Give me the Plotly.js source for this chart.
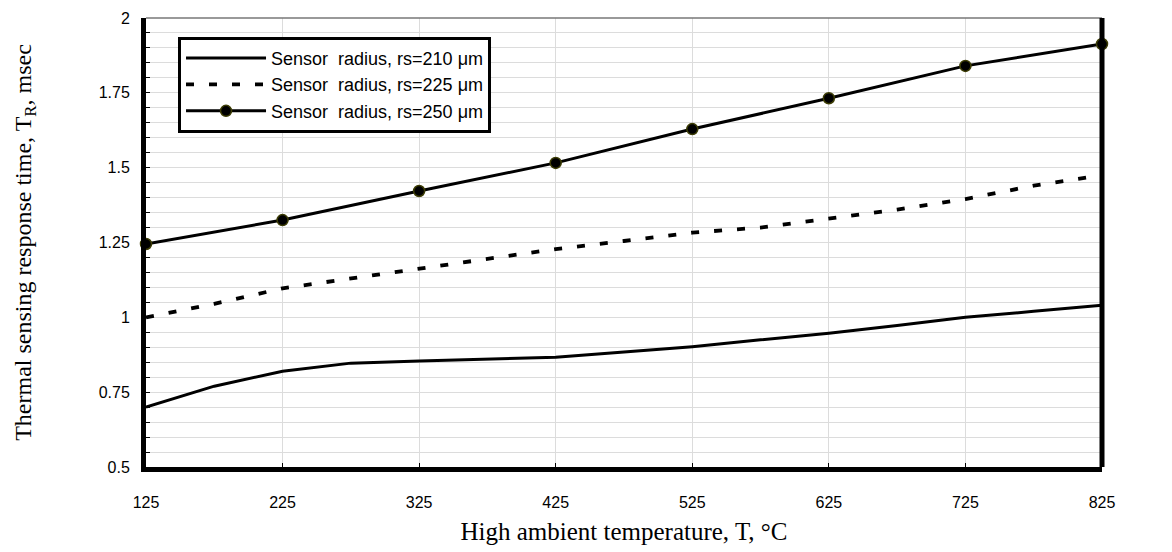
<!DOCTYPE html>
<html>
<head>
<meta charset="utf-8">
<script src="https://cdn.plot.ly/plotly-3.0.1.min.js"></script>
<style>html,body{margin:0;padding:0;background:#fff;}#chart{width:1172px;height:552px;}</style>
</head>
<body>
<div id="chart"></div>
<script>
// Temperatures (°C)
const tempFine = [125,175,225,275,325,375,425,475,525,575,625,675,725,775,825];
const tempMarked = [125,225,325,425,525,625,725,825];
// Response time (msec)
const rs210 = [0.70,0.77,0.82,0.847,0.854,0.86,0.867,0.884,0.902,0.925,0.947,0.973,1.0,1.02,1.04];
const rs225 = [1.0,1.045,1.097,1.13,1.165,1.195,1.228,1.255,1.283,1.30,1.33,1.36,1.395,1.44,1.475];
const rs250 = [1.245,1.325,1.422,1.516,1.629,1.732,1.840,1.913];
const names = ["Sensor\u00a0 radius, rs=210 \u03bcm","Sensor\u00a0 radius, rs=225 \u03bcm","Sensor\u00a0 radius, rs=250 \u03bcm"];
const yTicks = [0.5,0.75,1,1.25,1.5,1.75,2];
const yTickText = ["0.5","0.75","1","1.25","1.5","1.75","2"];
const xTicks = [125,225,325,425,525,625,725,825];

const traces = [
  {x: tempFine, y: rs210, name: names[0], mode: "lines", line: {color: "#000", width: 3}},
  {x: tempFine, y: rs225, name: names[1], mode: "lines", line: {color: "#000", width: 3.8, dash: "8px,15px"}},
  {x: tempMarked, y: rs250, name: names[2], mode: "lines+markers", line: {color: "#000", width: 3},
   marker: {color: "#000", size: 11, line: {color: "#3d3d05", width: 1.5}}, cliponaxis: false}
];

const layout = {
  width: 1172, height: 552,
  margin: {l: 146, r: 70, t: 18, b: 85},
  paper_bgcolor: "#fff", plot_bgcolor: "#fff",
  showlegend: true,
  legend: {
    x: 0.0335, y: 0.958, xanchor: "left", yanchor: "top",
    bgcolor: "#fff", bordercolor: "#000", borderwidth: 3,
    font: {family: "Liberation Sans, Arial, sans-serif", size: 18, color: "#000"},
    itemwidth: 80, tracegroupgap: 0
  },
  xaxis: {
    range: [125, 825], tickvals: xTicks, ticktext: xTicks.map(String),
    showline: true, linecolor: "#000", linewidth: 5,
    ticks: "inside", ticklen: 4, tickcolor: "#000", tickwidth: 1,
    showgrid: true, gridcolor: "#dcdcdc", gridwidth: 1,
    zeroline: false, ticklabelstandoff: 17,
    tickfont: {family: "Liberation Sans, Arial, sans-serif", size: 16, color: "#000"},
    title: {text: "High ambient temperature, T, \u00b0C", standoff: 14,
      font: {family: "Liberation Serif, Times New Roman, serif", size: 25, color: "#000"}}
  },
  yaxis: {
    range: [0.5, 2], tickvals: yTicks, ticktext: yTickText,
    showline: true, linecolor: "#000", linewidth: 5,
    ticks: "inside", ticklen: 4, tickcolor: "#000", tickwidth: 1,
    showgrid: true, gridcolor: "#dcdcdc", gridwidth: 1,
    minor: {dtick: 0.05, ticks: "inside", ticklen: 4, tickcolor: "#000", showgrid: true, gridcolor: "#dcdcdc", gridwidth: 1},
    zeroline: false, ticklabelstandoff: 8,
    tickfont: {family: "Liberation Sans, Arial, sans-serif", size: 16, color: "#000"},
    title: {text: "Thermal sensing response time, T<sub>R</sub>, msec", standoff: 62,
      font: {family: "Liberation Serif, Times New Roman, serif", size: 24, color: "#000"}}
  },
  shapes: [
    {type: "line", xref: "paper", yref: "paper", x0: 0, x1: 1, y0: 1, y1: 1, line: {color: "#777", width: 1.5}, layer: "above"},
    {type: "line", xref: "paper", yref: "paper", x0: 1, x1: 1, y0: 0, y1: 1, line: {color: "#000", width: 5}, layer: "above"}
  ]
};

Plotly.newPlot("chart", traces, layout, {displayModeBar: false, staticPlot: true});
</script>
</body>
</html>
